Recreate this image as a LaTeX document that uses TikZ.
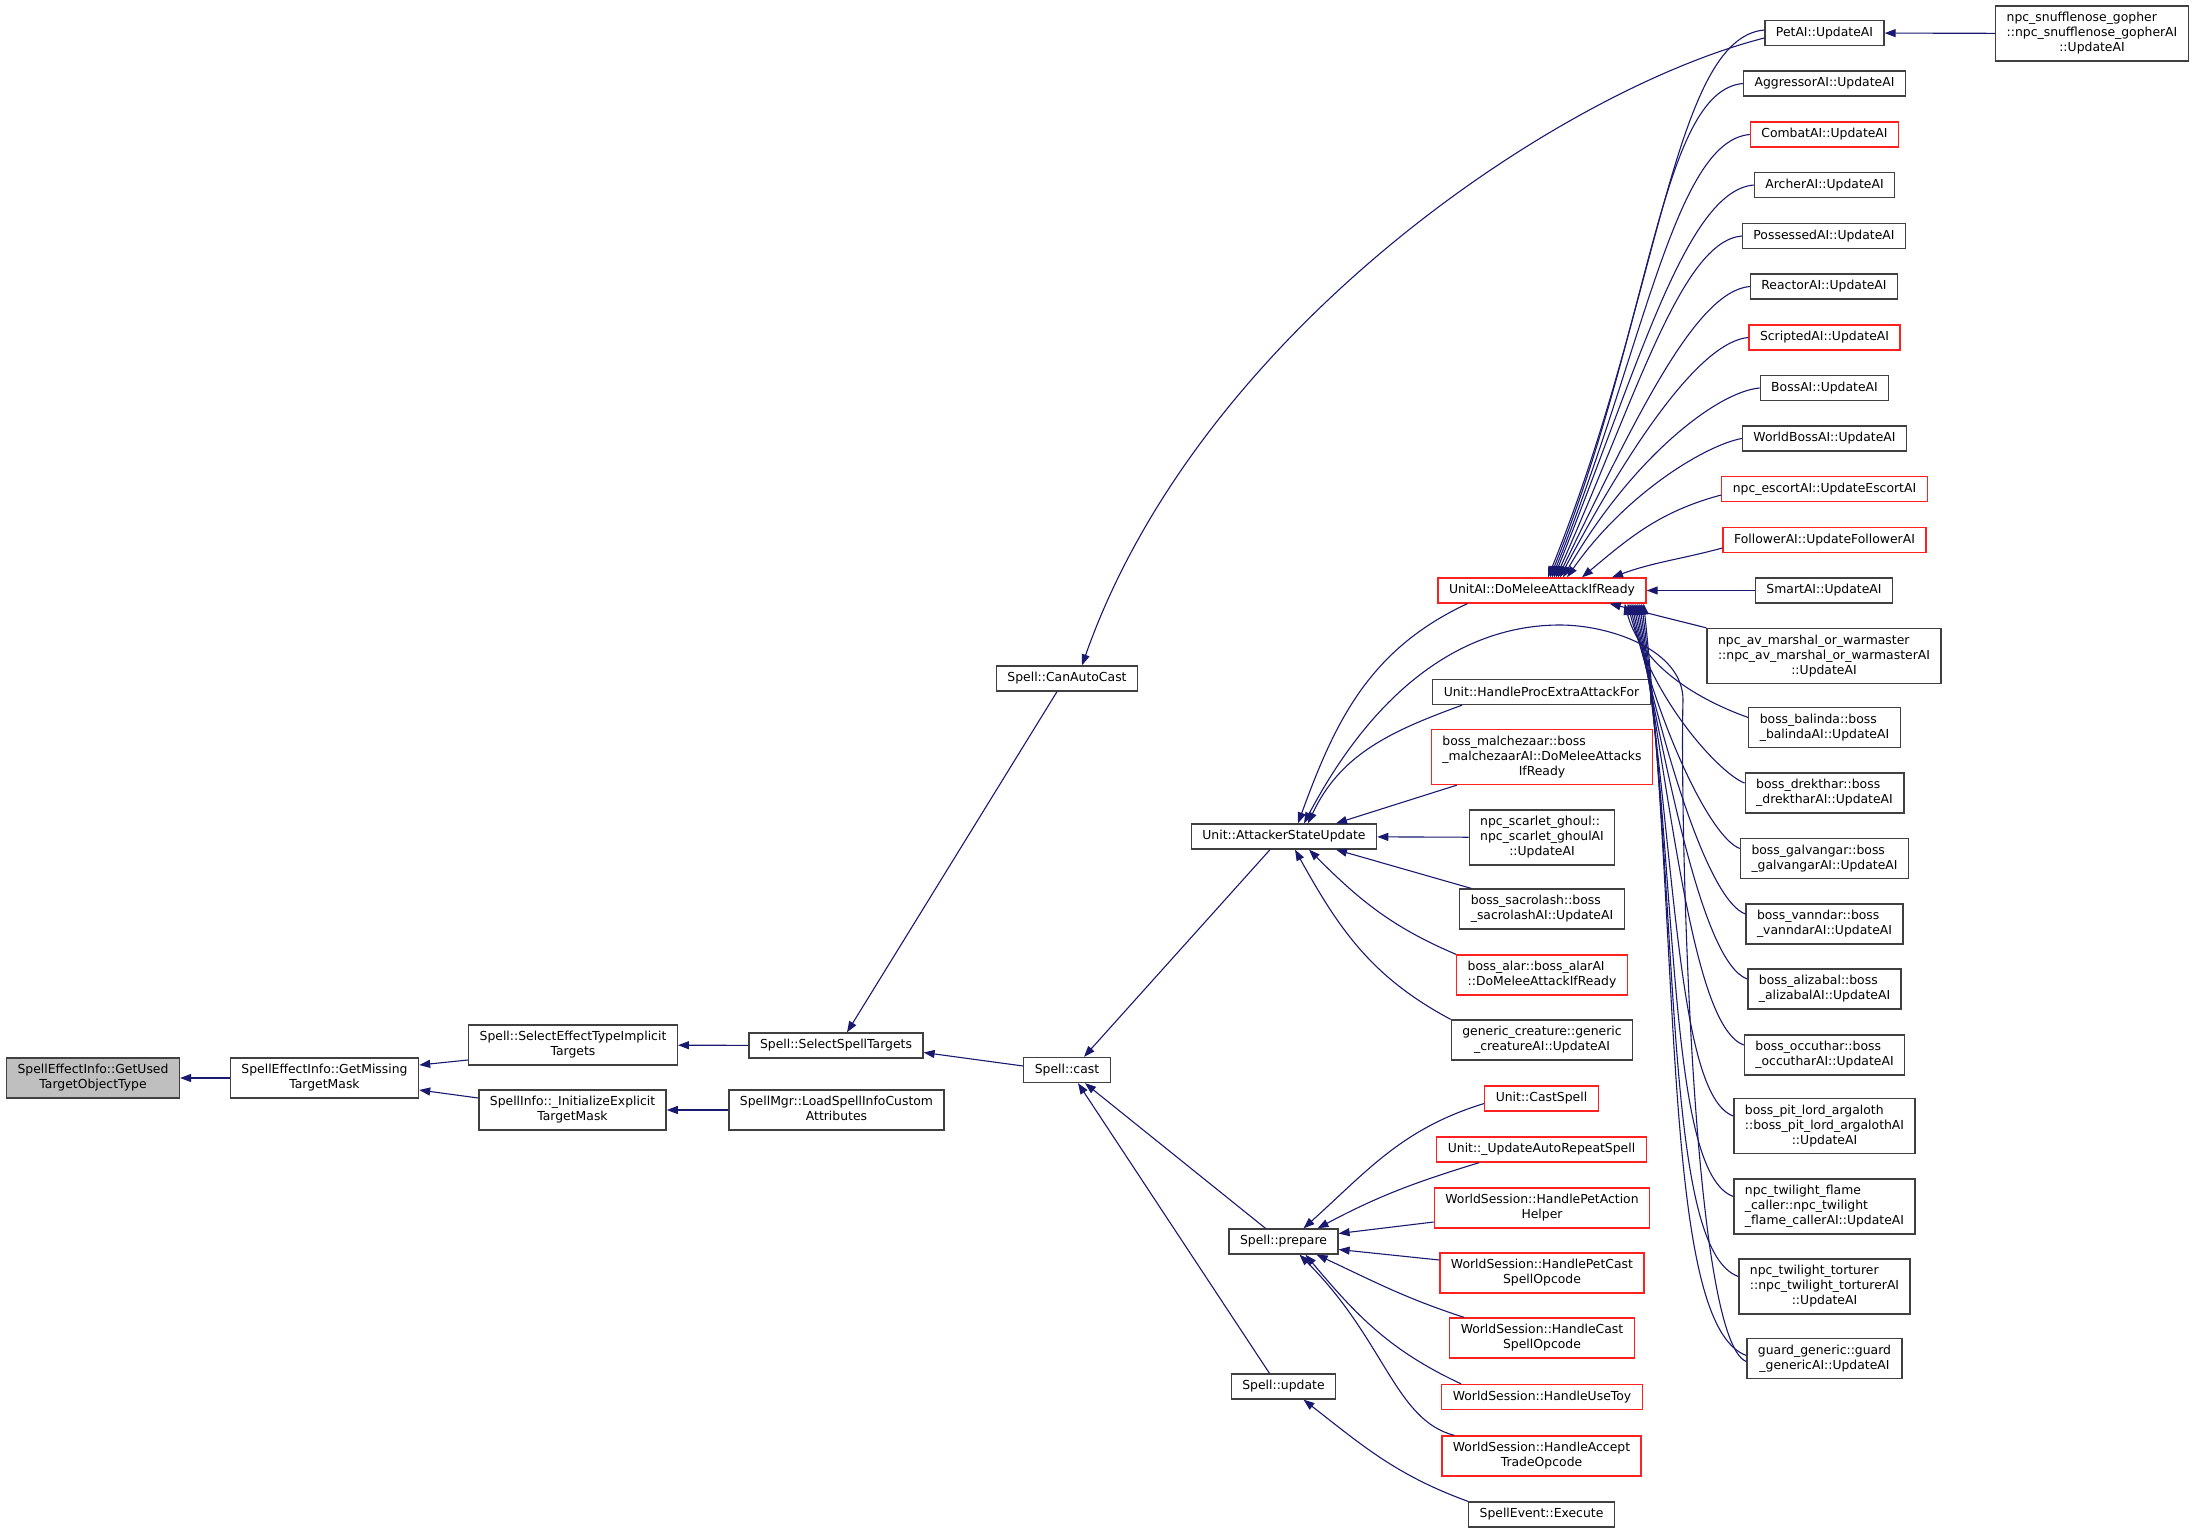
\documentclass[tikz,border=0pt]{standalone}
\usepackage{fontspec}
\setmainfont{DejaVu Sans}
\usepackage{tikz}
\usetikzlibrary{arrows.meta}
\definecolor{edgeblue}{HTML}{191970}
\definecolor{boxline}{HTML}{404040}
\definecolor{boxred}{HTML}{FF2020}
\definecolor{boxfill}{HTML}{BFBFBF}
\newcommand{\fnlabel}[2]{\begin{tabular}{@{}l@{}}#1\\\multicolumn{1}{@{}c@{}}{#2}\end{tabular}}

\begin{document}
\begin{tikzpicture}[x=1pt,y=-1pt,
  fn/.style={draw=boxline,line width=1.3pt,fill=white,font=\fontsize{12.4}{15}\selectfont,
    inner xsep=11pt,inner ysep=5pt,minimum height=25pt},
  fnred/.style={fn,draw=boxred},
  fnhere/.style={fn,fill=boxfill},
  call/.style={draw=edgeblue,line width=1.1pt,-{Triangle[length=11pt,width=8pt]}}]
\useasboundingbox (0,0) rectangle (2196,1533);

\node[fnhere] (used) at (93,1078) {\fnlabel{SpellEffectInfo::GetUsed}{TargetObjectType}};
\node[fn] (missing) at (324.5,1078) {\fnlabel{SpellEffectInfo::GetMissing}{TargetMask}};
\node[fn] (implicit) at (573,1045) {\fnlabel{Spell::SelectEffectTypeImplicit}{Targets}};
\node[fn] (explicit) at (572.5,1110) {\fnlabel{SpellInfo::\_InitializeExplicit}{TargetMask}};
\node[fn] (selecttargets) at (836,1045.5) {Spell::SelectSpellTargets};
\node[fn] (loadcustom) at (836.5,1110) {\fnlabel{SpellMgr::LoadSpellInfoCustom}{Attributes}};
\node[fn] (canauto) at (1067,678.5) {Spell::CanAutoCast};
\node[fn] (cast) at (1067,1070) {Spell::cast};
\node[fn] (attacker) at (1284,836.5) {Unit::AttackerStateUpdate};
\node[fn] (prepare) at (1283.5,1241.5) {Spell::prepare};
\node[fn] (update) at (1283.5,1386.5) {Spell::update};

\node[fnred] (meleeready) at (1542,590.5) {UnitAI::DoMeleeAttackIfReady};
\node[fn] (procextra) at (1541.5,692) {Unit::HandleProcExtraAttackFor};
\node[fnred] (malchezaar) at (1542,757) {\fnlabel{boss\_malchezaar::boss\\\_malchezaarAI::DoMeleeAttacks}{IfReady}};
\node[fn] (ghoul) at (1542,837.5) {\fnlabel{npc\_scarlet\_ghoul::\\npc\_scarlet\_ghoulAI}{::UpdateAI}};
\node[fn] (sacrolash) at (1542,909) {\fnlabel{boss\_sacrolash::boss}{\_sacrolashAI::UpdateAI}};
\node[fnred] (alar) at (1542,975) {\fnlabel{boss\_alar::boss\_alarAI}{::DoMeleeAttackIfReady}};
\node[fn] (creature) at (1542,1040) {\fnlabel{generic\_creature::generic}{\_creatureAI::UpdateAI}};
\node[fnred] (castspell) at (1541.5,1098.5) {Unit::CastSpell};
\node[fnred] (autorepeat) at (1541.5,1149.5) {Unit::\_UpdateAutoRepeatSpell};
\node[fnred] (petaction) at (1542,1208) {\fnlabel{WorldSession::HandlePetAction}{Helper}};
\node[fnred] (petcast) at (1542,1273) {\fnlabel{WorldSession::HandlePetCast}{SpellOpcode}};
\node[fnred] (castopcode) at (1542,1338) {\fnlabel{WorldSession::HandleCast}{SpellOpcode}};
\node[fnred] (usetoy) at (1542,1397) {WorldSession::HandleUseToy};
\node[fnred] (accepttrade) at (1541.5,1456) {\fnlabel{WorldSession::HandleAccept}{TradeOpcode}};
\node[fn] (execute) at (1541.5,1514.5) {SpellEvent::Execute};

\node[fn] (petai) at (1824.5,33) {PetAI::UpdateAI};
\node[fn] (snufflenose) at (2092,33.5) {\fnlabel{npc\_snufflenose\_gopher\\::npc\_snufflenose\_gopherAI}{::UpdateAI}};
\node[fn] (aggressor) at (1824.5,83.5) {AggressorAI::UpdateAI};
\node[fnred] (combat) at (1824.5,134.5) {CombatAI::UpdateAI};
\node[fn] (archer) at (1824.5,185) {ArcherAI::UpdateAI};
\node[fn] (possessed) at (1824,236) {PossessedAI::UpdateAI};
\node[fn] (reactor) at (1824,286.5) {ReactorAI::UpdateAI};
\node[fnred] (scripted) at (1824.5,337.5) {ScriptedAI::UpdateAI};
\node[fn] (bossai) at (1824.5,388) {BossAI::UpdateAI};
\node[fn] (worldboss) at (1824.5,438.5) {WorldBossAI::UpdateAI};
\node[fnred] (escort) at (1824.5,489) {npc\_escortAI::UpdateEscortAI};
\node[fnred] (follower) at (1824.5,540) {FollowerAI::UpdateFollowerAI};
\node[fn] (smart) at (1824,590.5) {SmartAI::UpdateAI};
\node[fn] (marshal) at (1824,656) {\fnlabel{npc\_av\_marshal\_or\_warmaster\\::npc\_av\_marshal\_or\_warmasterAI}{::UpdateAI}};
\node[fn] (balinda) at (1824.5,727.5) {\fnlabel{boss\_balinda::boss}{\_balindaAI::UpdateAI}};
\node[fn] (drekthar) at (1824.5,793) {\fnlabel{boss\_drekthar::boss}{\_drektharAI::UpdateAI}};
\node[fn] (galvangar) at (1824.5,858.5) {\fnlabel{boss\_galvangar::boss}{\_galvangarAI::UpdateAI}};
\node[fn] (vanndar) at (1824.5,924) {\fnlabel{boss\_vanndar::boss}{\_vanndarAI::UpdateAI}};
\node[fn] (alizabal) at (1824.5,989) {\fnlabel{boss\_alizabal::boss}{\_alizabalAI::UpdateAI}};
\node[fn] (occuthar) at (1824.5,1055) {\fnlabel{boss\_occuthar::boss}{\_occutharAI::UpdateAI}};
\node[fn] (pitlord) at (1824.5,1126) {\fnlabel{boss\_pit\_lord\_argaloth\\::boss\_pit\_lord\_argalothAI}{::UpdateAI}};
\node[fn] (flamecaller) at (1824.5,1206.5) {\fnlabel{npc\_twilight\_flame\\\_caller::npc\_twilight}{\_flame\_callerAI::UpdateAI}};
\node[fn] (torturer) at (1824.5,1286.5) {\fnlabel{npc\_twilight\_torturer\\::npc\_twilight\_torturerAI}{::UpdateAI}};
\node[fn] (guard) at (1824.5,1358.5) {\fnlabel{guard\_generic::guard}{\_genericAI::UpdateAI}};

\draw[call] (missing) -- (used);
\draw[call] ([yshift=-15pt]implicit.west) -- ([yshift=13pt]missing.east);
\draw[call] ([yshift=12pt]explicit.west) -- ([yshift=-12pt]missing.east);
\draw[call] (selecttargets) -- (implicit);
\draw[call] (loadcustom) -- (explicit);
\draw[call] ([xshift=-10pt]canauto.south) -- ([xshift=11pt]selecttargets.north);
\draw[call] ([yshift=4pt]cast.west) -- ([yshift=-7pt]selecttargets.east);
\draw[call] ([yshift=-5pt]petai.west) .. controls (1560,90) and (1200,330) .. ([xshift=15pt]canauto.north);
\draw[call] ([xshift=-14pt]attacker.south) -- ([xshift=17pt]cast.north);
\draw[call] ([xshift=-18pt]prepare.north) -- ([xshift=18pt]cast.south);
\draw[call] ([xshift=-14pt]update.north) -- ([xshift=11pt]cast.south);

\draw[call] ([xshift=30pt]meleeready.south west) to[out=205,in=70] ([xshift=14pt]attacker.north);
\draw[call] ([xshift=30pt]procextra.south west) to[out=200,in=65] ([xshift=24pt]attacker.north);
\draw[call] ([xshift=26pt]malchezaar.south west) -- ([xshift=52pt]attacker.north);
\draw[call] (ghoul) -- (attacker);
\draw[call] ([xshift=12pt]sacrolash.north west) -- ([xshift=52pt]attacker.south);
\draw[call] (alar.north west) to[out=157,in=-45] ([xshift=25pt]attacker.south);
\draw[call] (creature.north west) to[out=152,in=-61] ([xshift=11pt]attacker.south);
\draw[call] ([yshift=-3pt]guard.west) .. controls (1690,1340) and (1680,800) .. (1683,700)
  .. controls (1683,650) and (1610,625) .. (1560,625)
  .. controls (1470,625) and (1380,680) .. ([xshift=20pt]attacker.north);

\draw[call] ([yshift=-5pt]castspell.west) to[out=197,in=42] ([xshift=20pt]prepare.north);
\draw[call] ([xshift=43pt]autorepeat.south west) to[out=197,in=28] ([xshift=34pt]prepare.north);
\draw[call] ([yshift=-14pt]petaction.west) -- ([yshift=8pt]prepare.east);
\draw[call] ([yshift=13pt]petcast.west) -- ([yshift=-8pt]prepare.east);
\draw[call] ([xshift=15pt]castopcode.north west) to[out=162,in=-25] ([xshift=-22pt]prepare.south east);
\draw[call] ([xshift=20pt]usetoy.north west) to[out=155,in=-50] ([xshift=22pt]prepare.south);
\draw[call] ([xshift=13pt]accepttrade.north west) .. controls (1395,1420) and (1385,1340) .. ([xshift=16pt]prepare.south);
\draw[call] (execute.north west) to[out=160,in=-38] ([xshift=20pt]update.south);

\draw[call] (snufflenose) -- (petai);
\draw[call] ([yshift=3pt]petai.west) to[out=185,in=68,out looseness=0.4,in looseness=1.3] ([xshift=6pt]meleeready.north);
\draw[call] (aggressor.west) to[out=185,in=68,out looseness=0.4,in looseness=1.3] ([xshift=8pt]meleeready.north);
\draw[call] (combat.west) to[out=185,in=68,out looseness=0.4,in looseness=1.3] ([xshift=10pt]meleeready.north);
\draw[call] (archer.west) to[out=185,in=68,out looseness=0.4,in looseness=1.3] ([xshift=12pt]meleeready.north);
\draw[call] (possessed.west) to[out=185,in=66,out looseness=0.4,in looseness=1.3] ([xshift=14pt]meleeready.north);
\draw[call] (reactor.west) to[out=185,in=64,out looseness=0.4,in looseness=1.3] ([xshift=16pt]meleeready.north);
\draw[call] (scripted.west) to[out=185,in=62,out looseness=0.4,in looseness=1.3] ([xshift=18pt]meleeready.north);
\draw[call] (bossai.west) to[out=185,in=60,out looseness=0.4,in looseness=1.3] ([xshift=21pt]meleeready.north);
\draw[call] (worldboss.west) to[out=190,in=55,out looseness=0.4,in looseness=1.2] ([xshift=25pt]meleeready.north);
\draw[call] ([yshift=-6pt]escort.west) to[out=195,in=40] ([xshift=40pt]meleeready.north);
\draw[call] ([yshift=-8pt]follower.west) to[out=195,in=20] ([xshift=70pt]meleeready.north);
\draw[call] (smart) -- (meleeready);
\draw[call] (marshal.north west) -- ([xshift=-37pt]meleeready.south east);
\draw[call] ([yshift=10pt]balinda.west) to[out=160,in=-75,out looseness=0.3,in looseness=1.2] ([xshift=-22pt]meleeready.south east);
\draw[call] ([yshift=10pt]drekthar.west) to[out=160,in=-76,out looseness=0.3,in looseness=1.2] ([xshift=-19pt]meleeready.south east);
\draw[call] ([yshift=10pt]galvangar.west) to[out=160,in=-77,out looseness=0.3,in looseness=1.2] ([xshift=-17pt]meleeready.south east);
\draw[call] ([yshift=10pt]vanndar.west) to[out=160,in=-78,out looseness=0.3,in looseness=1.2] ([xshift=-15pt]meleeready.south east);
\draw[call] ([yshift=10pt]alizabal.west) to[out=160,in=-79,out looseness=0.3,in looseness=1.2] ([xshift=-13pt]meleeready.south east);
\draw[call] ([yshift=10pt]occuthar.west) to[out=160,in=-80,out looseness=0.3,in looseness=1.2] ([xshift=-11pt]meleeready.south east);
\draw[call] ([yshift=10pt]pitlord.west) to[out=160,in=-81,out looseness=0.3,in looseness=1.2] ([xshift=-9pt]meleeready.south east);
\draw[call] ([yshift=10pt]flamecaller.west) to[out=160,in=-82,out looseness=0.3,in looseness=1.2] ([xshift=-7pt]meleeready.south east);
\draw[call] ([yshift=10pt]torturer.west) to[out=160,in=-83,out looseness=0.3,in looseness=1.2] ([xshift=-5pt]meleeready.south east);
\draw[call] ([yshift=3pt]guard.west) to[out=160,in=-84,out looseness=0.3,in looseness=1.2] ([xshift=-3pt]meleeready.south east);
\end{tikzpicture}
\end{document}
